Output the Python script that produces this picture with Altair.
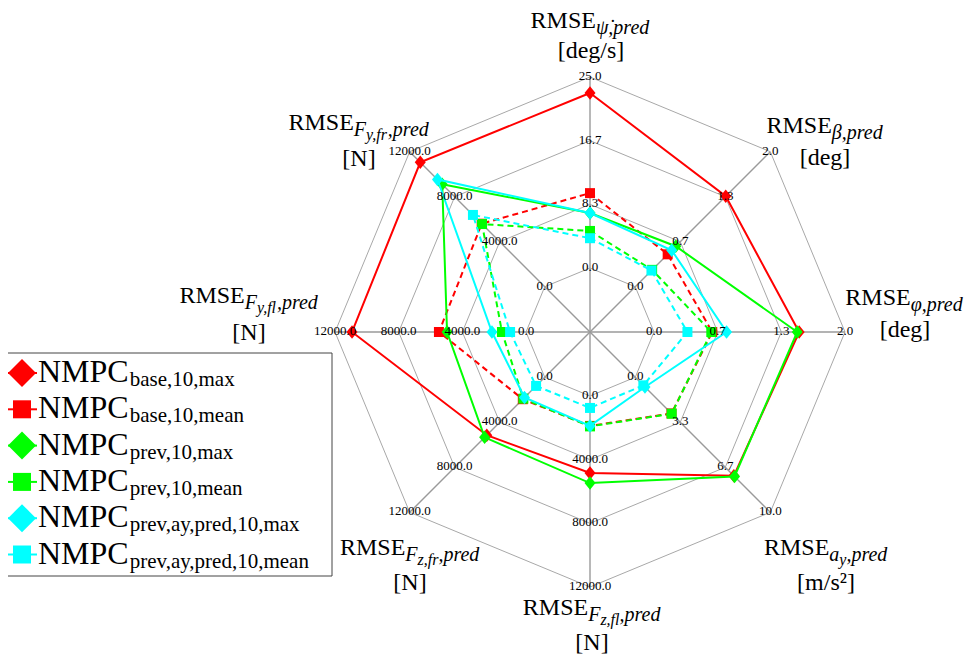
import altair as alt
import pandas as pd

# ---------------- data ----------------
AXES = ["yaw", "beta", "phi", "ay", "Fzfl", "Fzfr", "Fyfl", "Fyfr"]  # clockwise from top
AXIS_MAX = [25.0, 2.0, 2.0, 10.0, 12000.0, 12000.0, 12000.0, 12000.0]

base_max = [22.9, 1.34, 1.52, 7.30, 4840, 5150, 10930, 11060]
base_mean = [9.8, 0.48, 0.61, 2.68, 1880, 1950, 5470, 5600]
prev_max = [7.2, 0.60, 1.50, 7.35, 5470, 5340, 4960, 9110]
prev_mean = [4.85, 0.25, 0.60, 2.70, 1910, 1900, 1510, 5570]
ay_max = [7.2, 0.54, 0.76, 0.72, 1880, 1800, 2140, 9530]
ay_mean = [3.9, 0.24, 0.35, 0.60, 750, 770, 1000, 6380]

SERIES_VALUES = [base_max, base_mean, prev_max, prev_mean, ay_max, ay_mean]
SERIES_COLORS = ["#ff0000", "#ff0000", "#00ff00", "#00ff00", "#00ffff", "#00ffff"]
SERIES_IS_MEAN = [False, True, False, True, False, True]
LEGEND_SUBS = ["base,10,max", "base,10,mean", "prev,10,max", "prev,10,mean",
               "prev,ay,pred,10,max", "prev,ay,pred,10,mean"]

# axis titles: pieces (text, level) ; level 0 = RMSE, 1 = subscript, 2 = sub-subscript
TITLE_PIECES = [
    [("RMSE", 0), ("\u03c8\u0307,pred", 1)],
    [("RMSE", 0), ("\u03b2,pred", 1)],
    [("RMSE", 0), ("\u03c6,pred", 1)],
    [("RMSE", 0), ("a", 1), ("y", 2), (",pred", 1)],
    [("RMSE", 0), ("F", 1), ("z,fl", 2), (",pred", 1)],
    [("RMSE", 0), ("F", 1), ("z,fr", 2), (",pred", 1)],
    [("RMSE", 0), ("F", 1), ("y,fl", 2), (",pred", 1)],
    [("RMSE", 0), ("F", 1), ("y,fr", 2), (",pred", 1)],
]
TITLE_UNITS = ["[deg/s]", "[deg]", "[deg]", "[m/s\u00b2]", "[N]", "[N]", "[N]", "[N]"]

# ---------------- layout ----------------
CX, CY = 590, 332          # page position of radar centre
R0, R1 = 64, 255           # radius of the 0 ring and of the outer ring (px)
W, H = 958, 647
FONT = "Liberation Serif"

# title anchors (page px): block centre x, line-1 baseline, line-2 baseline
TITLE_POS = [(591, 28, 58), (825, 133, 165), (905, 305, 337), (826, 555, 590),
             (592, 615, 650), (410, 555, 590), (249, 303, 340), (359, 130, 166)]
LEVEL_SIZE = {0: 24, 1: 20, 2: 16}
LEVEL_DROP = {0: 0, 1: 6, 2: 10}


def ux(px):
    return px - CX


def uy(py):
    return CY - py


XD = [ux(8), ux(8 + W)]
YD = [uy(8 + H), uy(8)]

# approximate Times / Liberation Serif advance widths (per 1000 em)
ROMAN = {'R': 667, 'M': 889, 'S': 556, 'E': 611, 'N': 722, 'P': 556, 'C': 667,
         '[': 333, ']': 333, '/': 278, ',': 250, '.': 250, 'a': 444, 'b': 500,
         'd': 500, 'e': 444, 'g': 500, 'm': 778, 'n': 500, 'p': 500, 'r': 333,
         's': 389, 'v': 500, 'x': 500, 'y': 500, '\u00b2': 300}
for _d in "0123456789":
    ROMAN[_d] = 500
ITALIC = {'F': 611, ',': 250, 'a': 500, 'd': 500, 'e': 444, 'f': 278, 'l': 278,
          'p': 500, 'r': 389, 'y': 444, 'z': 389, '\u03b2': 500, '\u03c6': 620,
          '\u03c8': 690, '\u0307': 0}


def text_width(t, size, italic):
    table = ITALIC if italic else ROMAN
    return sum(table.get(c, 500) for c in t) * size / 1000.0


def X(field="x"):
    return alt.X(f"{field}:Q", scale=alt.Scale(domain=XD, nice=False, zero=False), axis=None)


def Y(field="y"):
    return alt.Y(f"{field}:Q", scale=alt.Scale(domain=YD, nice=False, zero=False), axis=None)


ANG = "PI/2 - datum.idx*PI/4"

# ---------------- grid rings ----------------
ring_rows = []
for k in range(4):
    for j in range(9):
        ring_rows.append({"ring": k, "ord": j, "idx": j % 8, "frac": k / 3})
rings = (
    alt.Chart(pd.DataFrame(ring_rows))
    .transform_calculate(ang=ANG, r=f"{R0} + {R1 - R0}*datum.frac")
    .transform_calculate(x="datum.r*cos(datum.ang)", y="datum.r*sin(datum.ang)")
    .mark_line(color="#a8a8a8", strokeWidth=1)
    .encode(x=X(), y=Y(), detail="ring:N", order="ord:Q")
)

# ---------------- spokes ----------------
spokes = (
    alt.Chart(pd.DataFrame({"idx": list(range(8))}))
    .transform_calculate(ang=ANG)
    .transform_calculate(x0="0", y0="0", x1=f"{R1}*cos(datum.ang)", y1=f"{R1}*sin(datum.ang)")
    .mark_rule(color="#9a9a9a", strokeWidth=1.4)
    .encode(x=X("x0"), y=Y("y0"), x2="x1:Q", y2="y1:Q")
)

# ---------------- series ----------------
DIAMOND = "M0,-1.1L0.9,0L0,1.1L-0.9,0Z"
series_layers = []
for vals, col, is_mean in zip(SERIES_VALUES, SERIES_COLORS, SERIES_IS_MEAN):
    df = pd.DataFrame({
        "ord": list(range(9)),
        "idx": [j % 8 for j in range(9)],
        "value": [vals[j % 8] for j in range(9)],
        "vmax": [AXIS_MAX[j % 8] for j in range(9)],
    })
    base = (
        alt.Chart(df)
        .transform_calculate(ang=ANG, r=f"{R0} + {R1 - R0}*datum.value/datum.vmax")
        .transform_calculate(x="datum.r*cos(datum.ang)", y="datum.r*sin(datum.ang)")
    )
    line_kw = dict(color=col, strokeWidth=2)
    if is_mean:
        line_kw["strokeDash"] = [6, 4]
    line = base.mark_line(**line_kw).encode(x=X(), y=Y(), order="ord:Q")
    if is_mean:
        pts = base.transform_filter("datum.ord < 8").mark_point(
            shape="square", filled=True, size=100, color=col, opacity=1, strokeWidth=0)
    else:
        pts = base.transform_filter("datum.ord < 8").mark_point(
            shape=DIAMOND, filled=True, size=150, color=col, opacity=1, strokeWidth=0)
    series_layers += [line, pts.encode(x=X(), y=Y())]

# ---------------- tick labels ----------------
tick_rows = []
for i, m in enumerate(AXIS_MAX):
    for k in range(4):
        tick_rows.append({"idx": i, "frac": k / 3, "label": f"{m * k / 3:.1f}"})
ticks = (
    alt.Chart(pd.DataFrame(tick_rows))
    .transform_calculate(ang=ANG, r=f"{R0} + {R1 - R0}*datum.frac")
    .transform_calculate(x="datum.r*cos(datum.ang)", y="datum.r*sin(datum.ang)")
    .mark_text(font=FONT, fontSize=13, color="black", align="center", baseline="middle", dy=-1)
    .encode(x=X(), y=Y(), text="label:N")
)

# ---------------- axis titles ----------------
up_rows, it_rows = [], []
for pieces, unit, (cx, b1, b2) in zip(TITLE_PIECES, TITLE_UNITS, TITLE_POS):
    widths = [text_width(t, LEVEL_SIZE[lv], lv > 0) for t, lv in pieces]
    xcur = cx - sum(widths) / 2
    for (t, lv), w in zip(pieces, widths):
        row = {"x": ux(xcur), "y": uy(b1 + LEVEL_DROP[lv]), "text": t, "size": LEVEL_SIZE[lv]}
        (it_rows if lv > 0 else up_rows).append(row)
        xcur += w
    uw = text_width(unit, 24, False)
    up_rows.append({"x": ux(cx - uw / 2), "y": uy(b2), "text": unit, "size": 24})

# ---------------- legend ----------------
LEG_X0, LEG_X1, LEG_Y0, LEG_Y1 = 5, 332, 353, 576
ROW0, ROWSTEP = 373, 36.3
leg_box = (
    alt.Chart(pd.DataFrame({"x": [ux(LEG_X0)], "x2": [ux(LEG_X1)], "y": [uy(LEG_Y0)], "y2": [uy(LEG_Y1)]}))
    .mark_rect(fill="white", stroke="#444444", strokeWidth=1)
    .encode(x=X(), x2="x2:Q", y=Y(), y2="y2:Q")
)
leg_rows = []
nmpc_w = text_width("NMPC", 32, False)
for i, (sub, col, is_mean) in enumerate(zip(LEGEND_SUBS, SERIES_COLORS, SERIES_IS_MEAN)):
    yc = ROW0 + ROWSTEP * i
    leg_rows.append({"xa": ux(7), "xb": ux(37), "xm": ux(22), "y": uy(yc), "color": col,
                     "shape": "square" if is_mean else "diamond",
                     "size": 324 if is_mean else 784})
    up_rows.append({"x": ux(38), "y": uy(yc + 9), "text": "NMPC", "size": 32})
    up_rows.append({"x": ux(38 + nmpc_w + 1), "y": uy(yc + 13), "text": sub, "size": 21})
leg_df = pd.DataFrame(leg_rows)
leg_lines = (
    alt.Chart(leg_df).mark_rule(strokeWidth=2)
    .encode(x=X("xa"), x2="xb:Q", y=Y(), color=alt.Color("color:N", scale=None))
)
leg_pts = (
    alt.Chart(leg_df).mark_point(filled=True, opacity=1, strokeWidth=0)
    .encode(x=X("xm"), y=Y(), color=alt.Color("color:N", scale=None),
            shape=alt.Shape("shape:N", scale=None), size=alt.Size("size:Q", scale=None))
)

upright = (
    alt.Chart(pd.DataFrame(up_rows))
    .mark_text(font=FONT, color="black", align="left", baseline="alphabetic")
    .encode(x=X(), y=Y(), text="text:N", size=alt.Size("size:Q", scale=None))
)
italic = (
    alt.Chart(pd.DataFrame(it_rows))
    .mark_text(font=FONT, fontStyle="italic", color="black", align="left", baseline="alphabetic")
    .encode(x=X(), y=Y(), text="text:N", size=alt.Size("size:Q", scale=None))
)

chart = (
    alt.layer(rings, spokes, *series_layers, ticks, leg_box, leg_lines, leg_pts, upright, italic)
    .properties(width=W, height=H, padding=0, autosize="none", background="white")
    .configure_view(stroke=None)
)

chart.save("out.html", embed_options={"renderer": "svg", "actions": False})
